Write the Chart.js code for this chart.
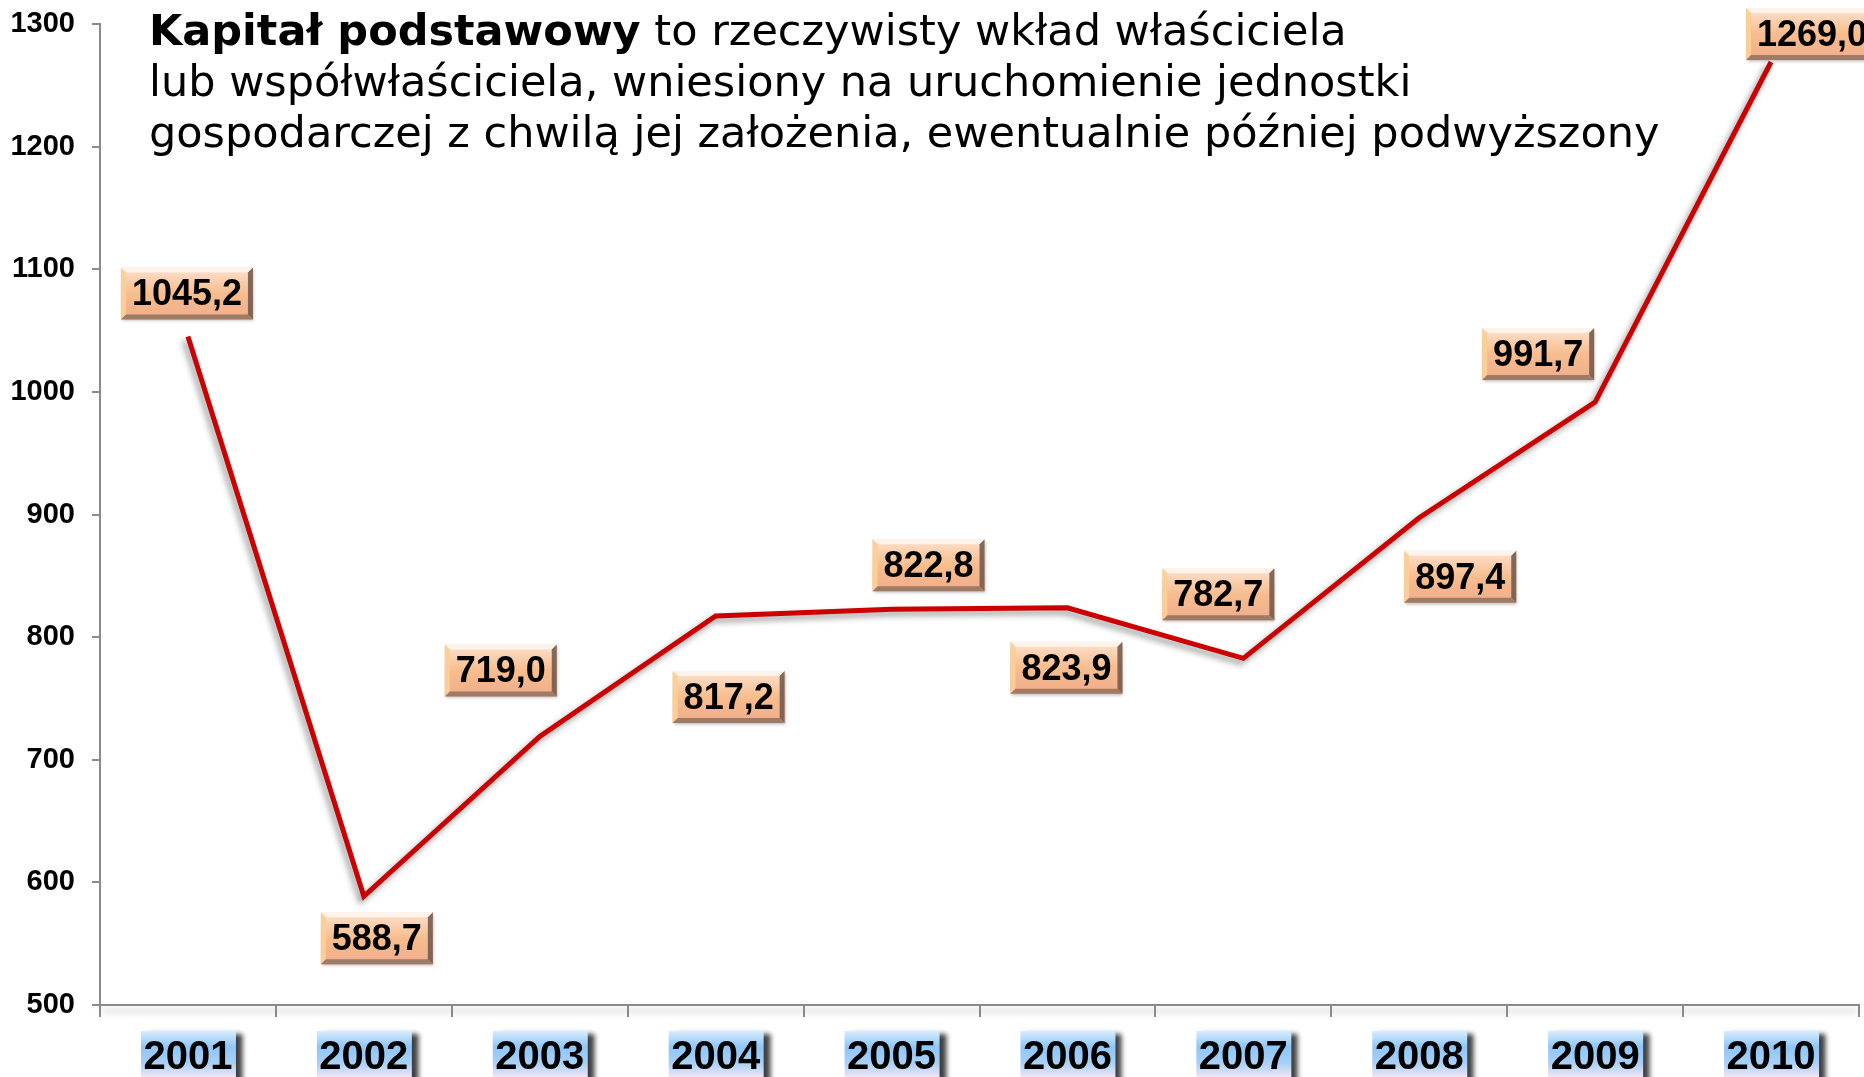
<!DOCTYPE html>
<html>
<head>
<meta charset="utf-8">
<script src="https://cdn.jsdelivr.net/npm/chart.js@4.4.1/dist/chart.umd.min.js"></script>
<style>
  html, body { margin: 0; padding: 0; background: #fff; }
  #wrap { position: relative; width: 1864px; height: 1077px; overflow: hidden; }
  #title {
    position: absolute; left: 149px; top: 5px;
    font-family: "DejaVu Sans", Verdana, sans-serif;
    font-size: 43px; line-height: 51px; color: #000; white-space: nowrap;
  }
</style>
</head>
<body>
<div id="wrap">
  <canvas id="chart" width="1864" height="1077"></canvas>
  <div id="title"><b>Kapitał podstawowy</b> to rzeczywisty wkład właściciela<br>lub współwłaściciela, wniesiony na uruchomienie jednostki<br>gospodarczej z chwilą jej założenia, ewentualnie później podwyższony</div>
</div>
<script>
const years = ['2001', '2002', '2003', '2004', '2005', '2006', '2007', '2008', '2009', '2010'];
const capital = [1045.2, 588.7, 719.0, 817.2, 822.8, 823.9, 782.7, 897.4, 991.7, 1269.0];
const valueLabels = ['1045,2', '588,7', '719,0', '817,2', '822,8', '823,9', '782,7', '897,4', '991,7', '1269,0'];

// where each value box sits relative to its point (px)
const labelShift = [[-1, -43], [13, 42], [-39, -66], [13, 81], [37, -44], [-1, 60], [-25, -64], [41, 59], [-57, -48], [41, -28]];

const axisGrey = '#8a8a8a';
const fontFam = '"Liberation Sans", Arial, sans-serif';

function poly(ctx, pts, color) {
  ctx.beginPath();
  ctx.moveTo(pts[0][0], pts[0][1]);
  for (let i = 1; i < pts.length; i++) ctx.lineTo(pts[i][0], pts[i][1]);
  ctx.closePath();
  ctx.fillStyle = color;
  ctx.fill();
}

// peach bevelled box behind the values
function bevelBox(ctx, x, y, w, h) {
  const b = 5;
  ctx.save();
  ctx.shadowColor = 'rgba(0,0,0,0.25)';
  ctx.shadowBlur = 3;
  ctx.shadowOffsetX = 1;
  ctx.shadowOffsetY = 2;
  const g = ctx.createLinearGradient(0, y, 0, y + h);
  g.addColorStop(0, '#fde2cf');
  g.addColorStop(0.5, '#f7bd8e');
  g.addColorStop(1, '#f0ad8c');
  ctx.fillStyle = g;
  ctx.fillRect(x, y, w, h);
  ctx.restore();
  poly(ctx, [[x, y], [x + w, y], [x + w - b, y + b], [x + b, y + b]], 'rgba(255,244,238,0.95)');
  poly(ctx, [[x, y], [x + b, y + b], [x + b, y + h - b], [x, y + h]], 'rgba(250,208,150,0.95)');
  poly(ctx, [[x + w, y], [x + w, y + h], [x + w - b, y + h - b], [x + w - b, y + b]], 'rgba(115,92,80,0.9)');
  poly(ctx, [[x, y + h], [x + w, y + h], [x + w - b, y + h - b], [x + b, y + h - b]], 'rgba(150,118,98,0.9)');
}

const decor = {
  id: 'decor',
  beforeDraw(chart) {
    const ctx = chart.ctx;
    const xs = chart.scales.x;
    const bottom = chart.chartArea.bottom;
    ctx.save();
    // soft shadow under the category axis
    ctx.strokeStyle = 'rgba(0,0,0,0.18)';
    ctx.lineWidth = 3;
    ctx.filter = 'blur(3px)';
    ctx.beginPath();
    ctx.moveTo(chart.chartArea.left, bottom + 6);
    ctx.lineTo(chart.chartArea.right, bottom + 6);
    ctx.stroke();
    ctx.filter = 'none';
    // blue boxes behind the year labels
    years.forEach((_, i) => {
      const cx = xs.getPixelForValue(i);
      const x0 = cx - 47, y0 = bottom + 26, w = 95, h = 60;
      ctx.save();
      ctx.shadowColor = 'rgba(0,0,0,0.75)';
      ctx.shadowBlur = 5;
      ctx.shadowOffsetX = 7;
      ctx.shadowOffsetY = 3;
      const g = ctx.createLinearGradient(0, y0, 0, y0 + 46);
      g.addColorStop(0, '#d8ecfd');
      g.addColorStop(0.35, '#8fc6f8');
      g.addColorStop(0.7, '#a9d0f6');
      g.addColorStop(1, '#eee6f4');
      ctx.fillStyle = g;
      ctx.fillRect(x0, y0, w, h);
      ctx.restore();
    });
    ctx.restore();
  },
  beforeDatasetDraw(chart) {
    const ctx = chart.ctx;
    ctx.save();
    ctx.shadowColor = 'rgba(0,0,0,0.4)';
    ctx.shadowBlur = 6;
    ctx.shadowOffsetX = -3;
    ctx.shadowOffsetY = 4;
  },
  afterDatasetDraw(chart) {
    chart.ctx.restore();
  },
  afterDatasetsDraw(chart) {
    const ctx = chart.ctx;
    const meta = chart.getDatasetMeta(0);
    ctx.save();
    ctx.font = 'bold 36px ' + fontFam;
    ctx.textAlign = 'center';
    ctx.textBaseline = 'middle';
    meta.data.forEach((pt, i) => {
      const txt = valueLabels[i];
      const cx = pt.x + labelShift[i][0];
      const cy = pt.y + labelShift[i][1];
      const w = Math.round(ctx.measureText(txt).width) + 22;
      const h = 52;
      bevelBox(ctx, cx - w / 2, cy - h / 2, w, h);
      ctx.fillStyle = '#000';
      ctx.fillText(txt, cx, cy + 2);
    });
    ctx.restore();
  }
};

new Chart(document.getElementById('chart'), {
  type: 'line',
  data: {
    labels: years,
    datasets: [{
      data: capital,
      borderColor: '#cc0000',
      borderWidth: 5,
      borderJoinStyle: 'miter',
      pointRadius: 0,
      tension: 0,
      fill: false
    }]
  },
  options: {
    responsive: false,
    animation: false,
    devicePixelRatio: 1,
    layout: { padding: { top: 24, right: 5, left: 0, bottom: 0 } },
    plugins: { legend: { display: false }, tooltip: { enabled: false } },
    scales: {
      x: {
        offset: true,
        grid: { offset: true, drawOnChartArea: false, tickLength: 12, color: axisGrey, lineWidth: 2 },
        border: { color: axisGrey, width: 2 },
        ticks: { color: '#000', font: { family: fontFam, size: 40, weight: 'bold' }, padding: 17, maxRotation: 0, autoSkip: false },
        afterFit: s => { s.height = 72; }
      },
      y: {
        min: 500,
        max: 1300,
        grid: { drawOnChartArea: false, tickLength: 8, color: axisGrey, lineWidth: 2 },
        border: { color: axisGrey, width: 2 },
        ticks: { stepSize: 100, color: '#000', font: { family: fontFam, size: 29, weight: 'bold' }, padding: 17, callback: v => String(v) },
        afterFit: s => { s.width = 100; s.paddingTop = 0; s.paddingBottom = 0; }
      }
    }
  },
  plugins: [decor]
});
</script>
</body>
</html>
